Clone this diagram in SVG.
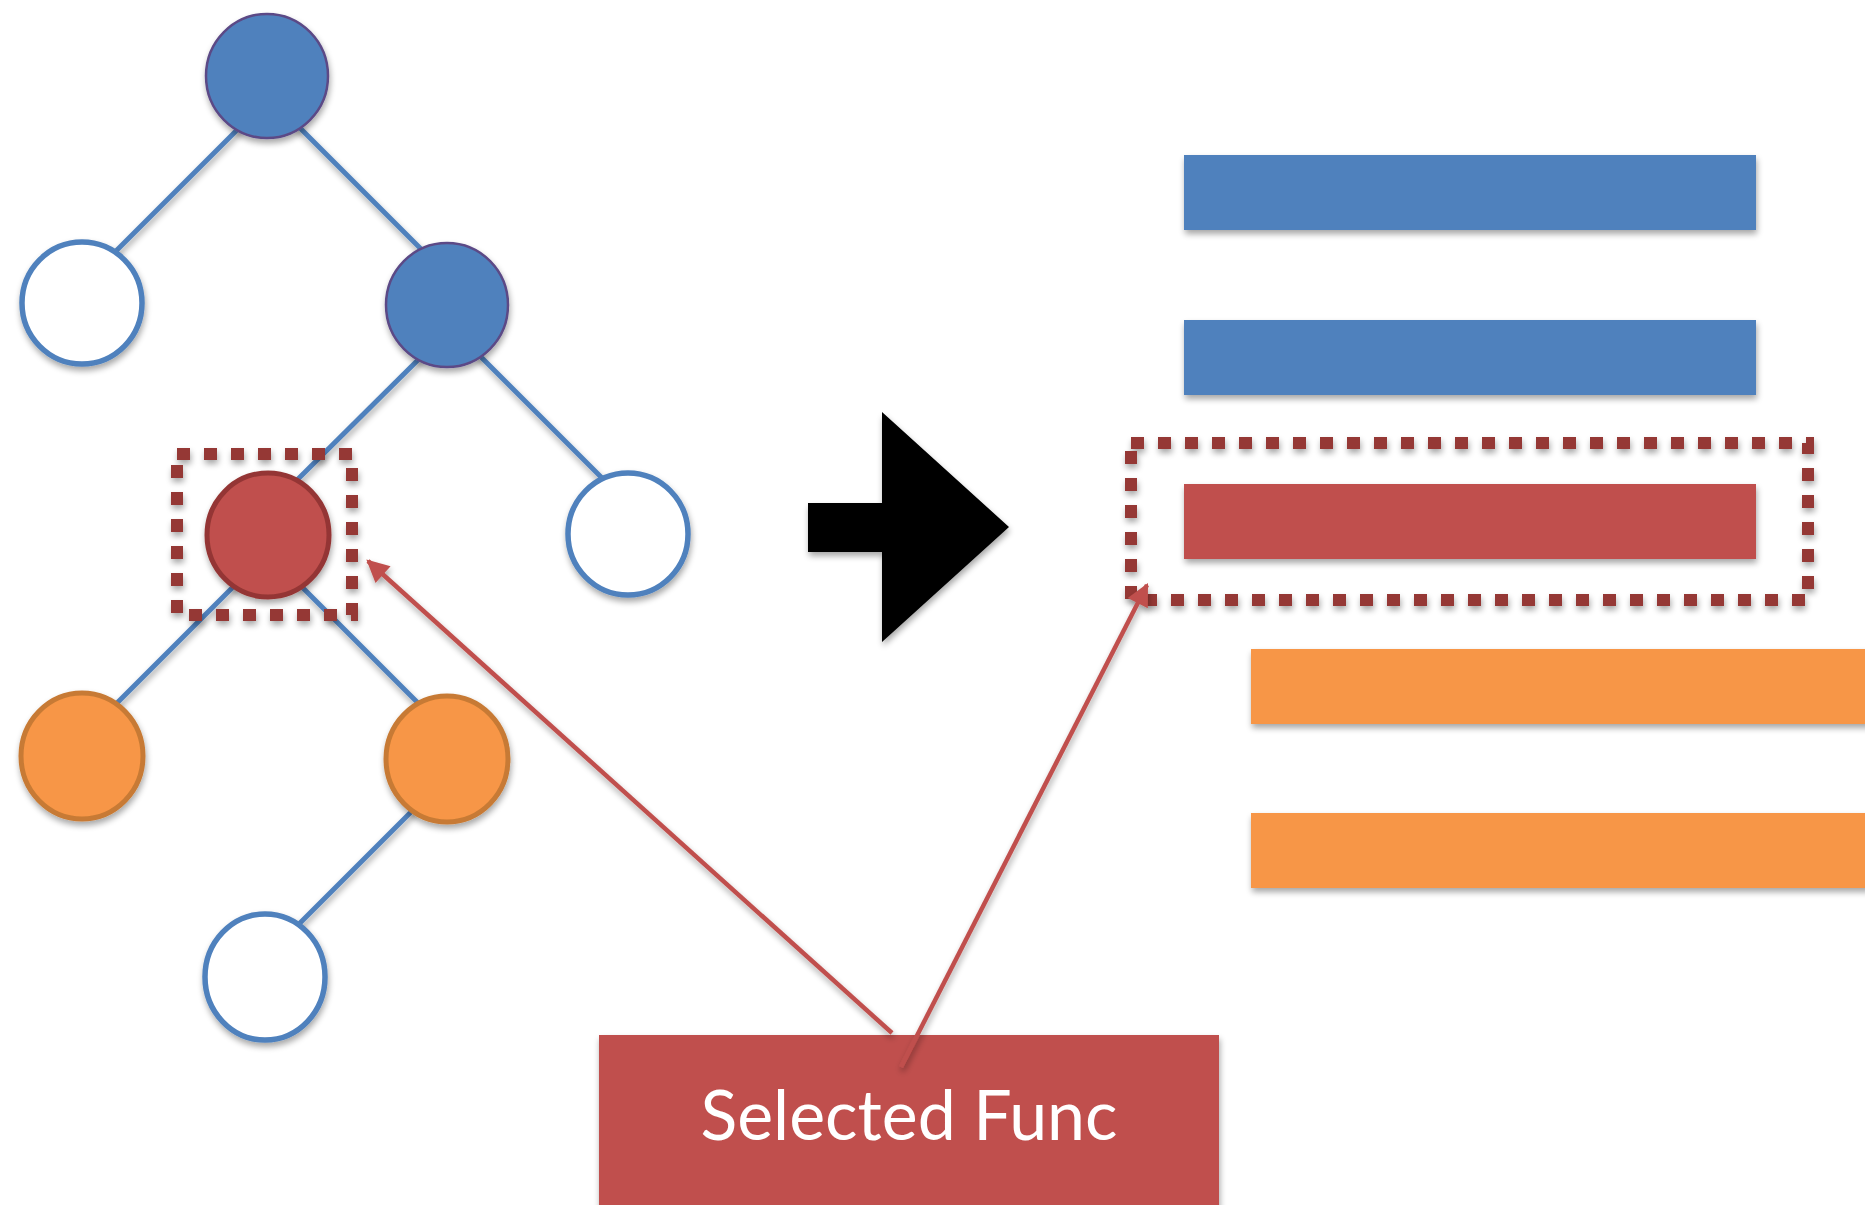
<svg xmlns="http://www.w3.org/2000/svg" width="1865" height="1205" viewBox="0 0 1865 1205">
  <style>
    .edge { stroke: #4F81BD; stroke-width: 5; fill: none; }
    .n-blue { fill: #4F81BD; stroke: #5B4A86; stroke-width: 2.5; }
    .n-white { fill: #FFFFFF; stroke: #4F81BD; stroke-width: 5.5; }
    .n-red { fill: #C0504D; stroke: #943634; stroke-width: 5; }
    .n-orange { fill: #F79646; stroke: #C77A34; stroke-width: 5; }
    .bar-blue { fill: #4F81BD; }
    .bar-red { fill: #C0504D; }
    .bar-orange { fill: #F79646; }
    .sel { fill: none; stroke: #953735; stroke-width: 12; stroke-dasharray: 13 14; }
    .pointer { stroke: #C0504D; stroke-width: 4.5; fill: none; }
    .label { font-family: Lato, "Open Sans", "Liberation Sans", sans-serif; font-size: 70px; fill: #FFFFFF; }
  </style>
  <defs>
    <filter id="shadow" x="-20%" y="-20%" width="140%" height="150%">
      <feGaussianBlur in="SourceAlpha" stdDeviation="3"/>
      <feOffset dx="1" dy="4" result="blur"/>
      <feComponentTransfer><feFuncA type="linear" slope="0.35"/></feComponentTransfer>
      <feMerge><feMergeNode/><feMergeNode in="SourceGraphic"/></feMerge>
    </filter>
    <marker id="head" viewBox="0 0 10 10" refX="9" refY="5" markerWidth="6" markerHeight="5" orient="auto" markerUnits="strokeWidth">
      <path d="M0,0 L10,5 L0,10 z" fill="#C0504D"/>
    </marker>
  </defs>

  <rect width="1865" height="1205" fill="#FFFFFF"/>

  <!-- tree edges -->
  <g id="tree-edges" filter="url(#shadow)">
    <line class="edge" x1="245" y1="122" x2="108" y2="259"/>
    <line class="edge" x1="295" y1="123" x2="427" y2="255"/>
    <line class="edge" x1="423" y1="355" x2="290" y2="487"/>
    <line class="edge" x1="476" y1="352" x2="608" y2="484"/>
    <line class="edge" x1="245" y1="575" x2="100" y2="720"/>
    <line class="edge" x1="295" y1="580" x2="430" y2="715"/>
    <line class="edge" x1="425" y1="798" x2="290" y2="933"/>
  </g>

  <!-- tree nodes -->
  <g id="node-root" filter="url(#shadow)"><ellipse class="n-blue" cx="267" cy="76" rx="61" ry="62"/></g>
  <g id="node-left" filter="url(#shadow)"><ellipse class="n-white" cx="82" cy="303" rx="60" ry="61"/></g>
  <g id="node-mid" filter="url(#shadow)"><ellipse class="n-blue" cx="447" cy="305" rx="61" ry="62"/></g>
  <g id="node-selected" filter="url(#shadow)"><ellipse class="n-red" cx="268" cy="535" rx="61" ry="62"/></g>
  <g id="node-right" filter="url(#shadow)"><ellipse class="n-white" cx="628" cy="534" rx="60" ry="61"/></g>
  <g id="node-orange-left" filter="url(#shadow)"><ellipse class="n-orange" cx="82" cy="756" rx="61" ry="63"/></g>
  <g id="node-orange-right" filter="url(#shadow)"><ellipse class="n-orange" cx="447" cy="759" rx="61" ry="63"/></g>
  <g id="node-bottom" filter="url(#shadow)"><ellipse class="n-white" cx="265" cy="977" rx="60" ry="63"/></g>

  <!-- selection frame around the chosen node -->
  <g id="frame-node" filter="url(#shadow)"><rect class="sel" x="177" y="454" width="175" height="161"/></g>

  <!-- big transform arrow -->
  <g id="transform-arrow" filter="url(#shadow)">
    <polygon points="808,503 882,503 882,412 1009,527 882,642 882,552 808,552" fill="#000000"/>
  </g>

  <!-- flattened list -->
  <g id="bar-1" filter="url(#shadow)"><rect class="bar-blue" x="1184" y="155" width="572" height="75"/></g>
  <g id="bar-2" filter="url(#shadow)"><rect class="bar-blue" x="1184" y="320" width="572" height="75"/></g>
  <g id="bar-3" filter="url(#shadow)"><rect class="bar-red" x="1184" y="484" width="572" height="75"/></g>
  <g id="bar-4" filter="url(#shadow)"><rect class="bar-orange" x="1251" y="649" width="620" height="75"/></g>
  <g id="bar-5" filter="url(#shadow)"><rect class="bar-orange" x="1251" y="813" width="620" height="75"/></g>

  <g id="frame-bar" filter="url(#shadow)"><rect class="sel" x="1131" y="443" width="677" height="157"/></g>

  <!-- label -->
  <g id="label-selected" filter="url(#shadow)">
    <rect x="599" y="1035" width="620" height="180" fill="#C0504D"/>
    <text class="label" x="909" y="1140" text-anchor="middle" textLength="417" lengthAdjust="spacingAndGlyphs">Selected Func</text>
  </g>

  <!-- pointers from the label -->
  <g id="pointers" filter="url(#shadow)">
    <line class="pointer" x1="892" y1="1033" x2="368" y2="561" marker-end="url(#head)"/>
    <line class="pointer" x1="901" y1="1067" x2="1147" y2="585" marker-end="url(#head)"/>
  </g>
</svg>
